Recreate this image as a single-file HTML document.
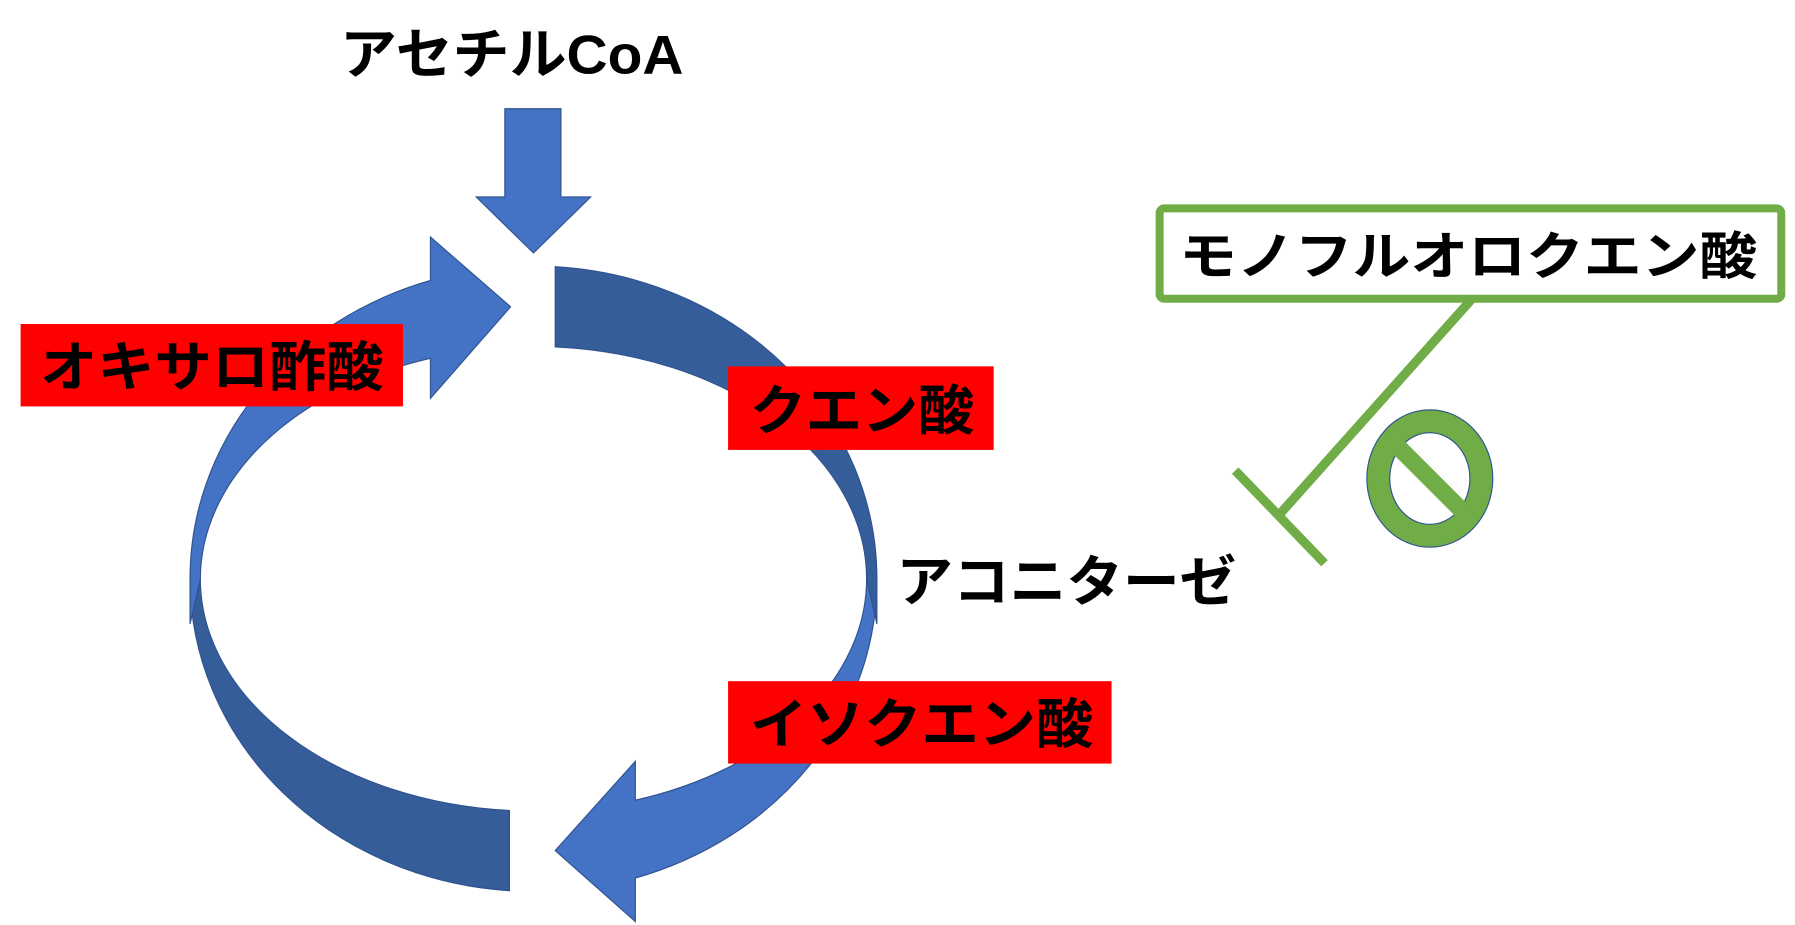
<!DOCTYPE html>
<html><head><meta charset="utf-8"><style>
html,body{margin:0;padding:0;background:#fff;width:1795px;height:925px;overflow:hidden}
svg{display:block}
text{font-family:"Liberation Sans","Noto Sans CJK JP",sans-serif;font-weight:700;fill:#000}
</style></head><body>
<svg width="1795" height="925" viewBox="0 0 1568 808" preserveAspectRatio="none" xmlns="http://www.w3.org/2000/svg">
<g stroke="#2F528F" stroke-width="1">
<path d="M441,95 L490,95 L490,172 L516,172 L466,221 L416,172 L441,172 Z" fill="#4472C4"/>
<path d="M166,506 A300,273 0 0 0 445,778 L445,708 A291,203 0 0 1 175,506 Z" fill="#355D9A"/>
<path d="M766,506 A300,273 0 0 1 555,767 L555,805 L485,743 L555,665 L555,699 A291,203 0 0 0 757,506 Z" fill="#4472C4"/>
<path d="M485,233 A300,273 0 0 1 766,506 L766,545 L757,506 A291,203 0 0 0 485,303 Z" fill="#355D9A"/>
<path d="M166,545 L166,506 A300,273 0 0 1 376,245 L376,207 L446,268 L376,348 L376,313 A291,203 0 0 0 175,506 Z" fill="#4472C4"/>
</g>
<text x="297" y="64" font-size="48" textLength="300" lengthAdjust="spacingAndGlyphs">アセチルCoA</text>
<rect x="18" y="283" width="334" height="72" fill="#FF0000"/>
<text x="35" y="337" font-size="47" textLength="300" lengthAdjust="spacingAndGlyphs">オキサロ酢酸</text>
<rect x="636" y="320" width="232" height="73" fill="#FF0000"/>
<text x="655" y="375" font-size="47" textLength="196" lengthAdjust="spacingAndGlyphs">クエン酸</text>
<rect x="636" y="595" width="335" height="72" fill="#FF0000"/>
<text x="655" y="649" font-size="47" textLength="300" lengthAdjust="spacingAndGlyphs">イソクエン酸</text>
<text x="783" y="525" font-size="48" textLength="297" lengthAdjust="spacingAndGlyphs">アコニターゼ</text>
<rect x="1013" y="182" width="543" height="79" rx="4" fill="#fff" stroke="#70AD47" stroke-width="7"/>
<text x="1030" y="240" font-size="45" textLength="505" lengthAdjust="spacingAndGlyphs">モノフルオロクエン酸</text>
<g stroke="#70AD47" stroke-width="8" fill="none">
<line x1="1285" y1="262" x2="1118" y2="449"/>
<line x1="1079" y1="411" x2="1157" y2="492"/>
</g>
<ellipse cx="1249" cy="418" rx="55" ry="60" fill="#70AD47" stroke="#2F528F" stroke-width="1"/>
<ellipse cx="1249" cy="418" rx="35" ry="40" fill="#fff" stroke="#2F528F" stroke-width="1"/>
<line x1="1217" y1="386" x2="1281" y2="450" stroke="#70AD47" stroke-width="15"/>
</svg>
</body></html>
